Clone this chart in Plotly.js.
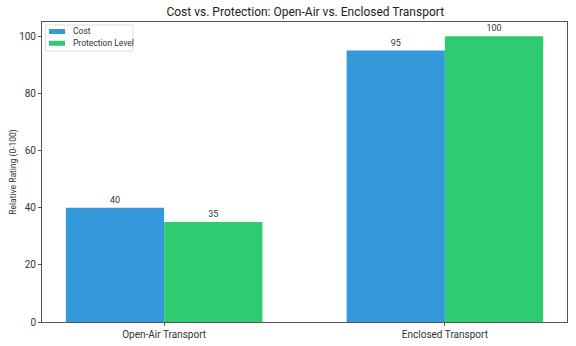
<!DOCTYPE html>
<html>
<head>
<meta charset="utf-8">
<script src="https://cdn.plot.ly/plotly-3.0.1.min.js"></script>
<style>html,body{margin:0;padding:0;background:#fff;}#chart{width:576px;height:346px;}</style>
</head>
<body>
<div id="chart"></div>
<script>
// Transport options compared on two relative ratings
const categories = ["Open-Air Transport", "Enclosed Transport"];
const costValues = [40, 95];
const protectionValues = [35, 100];
const seriesNames = ["Cost", "Protection Level"];
const seriesColors = ["#3498db", "#2ecc71"];

const font = "Roboto, 'Open Sans', sans-serif";

const traces = [
  {
    type: "bar", name: seriesNames[0], x: categories, y: costValues,
    marker: {color: seriesColors[0]},
    text: costValues.map(String), textposition: "outside",
    textfont: {size: 9, color: "#333"}, cliponaxis: false
  },
  {
    type: "bar", name: seriesNames[1], x: categories, y: protectionValues,
    marker: {color: seriesColors[1]},
    text: protectionValues.map(String), textposition: "outside",
    textfont: {size: 9, color: "#333"}, cliponaxis: false
  }
];

// Compact boxed legend in the upper-left corner of the plot area
const plotW = 525, plotH = 300;
const px = v => v / plotW;        // pixels -> paper x fraction
const py = v => 1 - v / plotH;    // pixels from top -> paper y fraction
const legendShapes = [
  {type: "rect", xref: "paper", yref: "paper",
   x0: px(3.5), x1: px(91), y0: py(3), y1: py(29),
   fillcolor: "rgba(255,255,255,0.9)", line: {color: "#dcdcdc", width: 1}}
];
const legendNotes = [];
seriesNames.forEach((name, i) => {
  const cy = 9.5 + i * 11.8;
  legendShapes.push({type: "rect", xref: "paper", yref: "paper",
    x0: px(7), x1: px(23), y0: py(cy - 2.5), y1: py(cy + 2.5),
    fillcolor: seriesColors[i], line: {width: 0}});
  legendNotes.push({xref: "paper", yref: "paper", x: px(29), y: py(cy),
    xanchor: "left", yanchor: "middle", showarrow: false, text: name,
    font: {size: 8.5, color: "#333"}});
});

const layout = {
  width: 576, height: 346,
  margin: {l: 42, r: 9, t: 22, b: 24},
  paper_bgcolor: "#fff", plot_bgcolor: "#fff",
  font: {family: font, size: 10, color: "#333"},
  title: {text: "Cost vs. Protection: Open-Air vs. Enclosed Transport",
          font: {size: 12, color: "#222"}, x: 0.53, xanchor: "center", y: 0.965, yanchor: "middle"},
  barmode: "group", bargap: 0.3, bargroupgap: 0,
  showlegend: false,
  shapes: legendShapes,
  annotations: legendNotes,
  xaxis: {type: "category", range: [-0.435, 1.435], showline: true, mirror: true,
          linecolor: "#555", linewidth: 1, ticks: "outside", ticklen: 3, tickcolor: "#555",
          tickfont: {size: 10, color: "#333"}, showgrid: false, zeroline: false},
  yaxis: {range: [0, 105], dtick: 20, showline: true, mirror: true,
          linecolor: "#555", linewidth: 1, ticks: "outside", ticklen: 3, tickcolor: "#555",
          tickfont: {size: 10, color: "#333"}, showgrid: false, zeroline: false,
          title: {text: "Relative Rating (0-100)", font: {size: 8.5, color: "#333"}, standoff: 1}}
};

Plotly.newPlot("chart", traces, layout, {displayModeBar: false, staticPlot: true});
</script>
</body>
</html>
